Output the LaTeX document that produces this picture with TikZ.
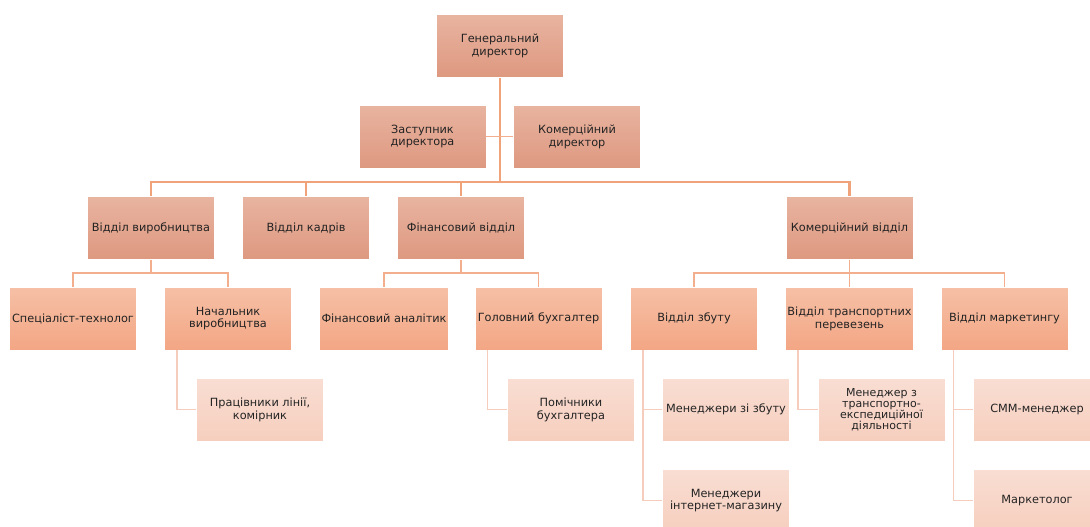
\documentclass[tikz,border=0pt]{standalone}
\usepackage{fontspec}
\setmainfont{DejaVu Sans}
\usepackage{xcolor}
\usepackage{tikz}
\usetikzlibrary{positioning, calc}
\definecolor{orgtop}{RGB}{232, 180, 160}
\definecolor{orgbot}{RGB}{222, 152, 128}
\definecolor{deptop}{RGB}{246, 192, 166}
\definecolor{depbot}{RGB}{243, 166, 132}
\definecolor{stafftop}{RGB}{249, 222, 211}
\definecolor{staffbot}{RGB}{246, 206, 190}
\definecolor{linkmain}{RGB}{240, 162, 122}
\definecolor{linksub}{RGB}{243, 174, 142}
\definecolor{linkleaf}{RGB}{246, 204, 188}
\definecolor{txtgray}{RGB}{35, 35, 35}

\begin{document}
\begin{tikzpicture}[x=1pt, y=-1pt,
    font=\fontsize{11.3}{12.8}\selectfont, text=txtgray,
    box/.style={draw=white, line width=0.8pt, align=center, inner sep=2pt,
                minimum width=127pt, minimum height=63pt},
    boss/.style={box, top color=orgtop, bottom color=orgbot},
    dept/.style={box, top color=deptop, bottom color=depbot},
    staff/.style={box, top color=stafftop, bottom color=staffbot},
    linkm/.style={draw=linkmain, line width=2.2pt},
    links/.style={draw=linksub, line width=1.8pt},
    linkl/.style={draw=linkleaf, line width=1.4pt}]
    \useasboundingbox (0,0) rectangle (1090,527);
    \clip (0,0) rectangle (1090,527);

    % керівництво
    \node[boss] (gen) at (500,46) {Генеральний\\директор};
    \node[boss] (zast) at (422.5,136.5) {Заступник\\директора};
    \node[boss] (komdir) at (577,136.5) {Комерційний\\директор};
    \coordinate (bus) at (500,183);

    % відділи
    \node[boss] (vvyr) at (151,228) {Відділ виробництва};
    \node[boss] (vkadr) at (306,228) {Відділ кадрів};
    \node[boss] (vfin) at (461,228) {Фінансовий відділ};
    \node[boss] (vkom) at (849.5,228) {Комерційний відділ};

    % третій рівень
    \node[dept] (spec) at (73,318.5) {Спеціаліст-технолог};
    \node[dept] (nach) at (228,318.5) {Начальник\\виробництва};
    \node[dept] (fanal) at (384,318.5) {Фінансовий аналітик};
    \node[dept] (golbuh) at (538.5,318.5) {Головний бухгалтер};
    \node[dept] (vzbut) at (694,318.5) {Відділ збуту};
    \node[dept] (vtrans) at (849.5,318.5) {Відділ транспортних\\перевезень};
    \node[dept] (vmark) at (1004.5,318.5) {Відділ маркетингу};

    % працівники
    \node[staff] (prac) at (260,409.5) {Працівники лінії,\\комірник};
    \node[staff] (pomich) at (571,409.5) {Помічники\\бухгалтера};
    \node[staff] (menzb) at (726,409.5) {Менеджери зі збуту};
    \node[staff] (menim) at (726,500.5) {Менеджери\\інтернет-магазину};
    \node[staff, font=\fontsize{11}{11}\selectfont] (mentr) at (881.5,409.5)
      {Менеджер з\\транспортно-\\експедиційної\\діяльності};
    \node[staff] (smm) at (1037,409.5) {СММ-менеджер};
    \node[staff] (market) at (1037,500.5) {Маркетолог};

    % зв'язки
    \draw[linkm] (gen.south) -- (bus);
    \draw[links, line width=1.6pt] (zast.east) -- (komdir.west);
    \draw[linkm] (vvyr.north) -- ++(0,-14) -| (vkom.north);
    \draw[linkm] (vkadr.north) -- ++(0,-14);
    \draw[linkm] (vfin.north) -- ++(0,-14);

    \draw[links] (spec.north) -- ++(0,-14) -| (nach.north);
    \draw[links] (vvyr.south) -- ++(0,14);
    \draw[links] (fanal.north) -- ++(0,-14) -| (golbuh.north);
    \draw[links] (vfin.south) -- ++(0,14);
    \draw[links] (vzbut.north) -- ++(0,-14) -| (vmark.north);
    \draw[links] (vkom.south) -- (vtrans.north);

    \draw[linkl] ([xshift=13pt]nach.south west) |- (prac.west);
    \draw[linkl] ([xshift=13pt]golbuh.south west) |- (pomich.west);
    \draw[linkl] ([xshift=13pt]vzbut.south west) |- (menim.west);
    \draw[linkl] ([xshift=13pt]vzbut.south west) |- (menzb.west);
    \draw[linkl] ([xshift=13pt]vtrans.south west) |- (mentr.west);
    \draw[linkl] ([xshift=13pt]vmark.south west) |- (market.west);
    \draw[linkl] ([xshift=13pt]vmark.south west) |- (smm.west);
\end{tikzpicture}
\end{document}
